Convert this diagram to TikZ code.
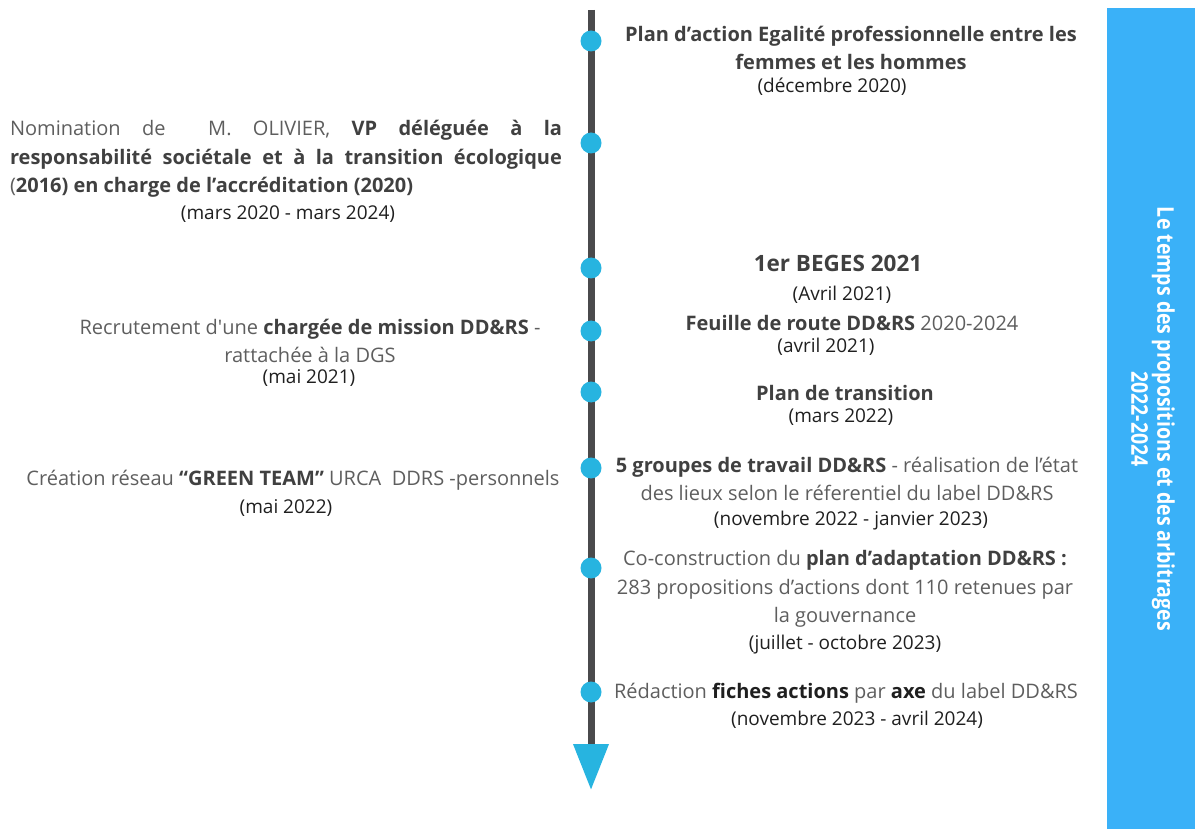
\documentclass[tikz,border=0pt]{standalone}
\usepackage{fontspec}
\setmainfont{Open Sans}
\newfontfamily\barfont{Open Sans}[FakeStretch=0.85]
\usetikzlibrary{arrows.meta, positioning}
\definecolor{ccyan}{HTML}{27B4E0}
\definecolor{cbar}{HTML}{3AB1F8}
\definecolor{cline}{HTML}{4A4A4C}
\definecolor{cgrey}{HTML}{5E5E5E}
\definecolor{cdark}{HTML}{404040}
\definecolor{cdate}{HTML}{1F1F1F}
\tikzset{
  every picture/.style={line width=1pt},
  ev/.style={font=\fontsize{20}{28.5}\selectfont, text=cgrey, align=center, inner sep=0pt},
  date/.style={font=\fontsize{19}{24}\selectfont, text=cdate, inner sep=0pt},
  dot/.style={circle, fill=ccyan, minimum size=21pt, inner sep=0pt},
  axis/.style={draw=cline, line width=7pt, -{Triangle[length=46pt, width=34pt, color=ccyan, fill=ccyan]}},
  bandfill/.style={fill=cbar, draw=none},
  bandtext/.style={font=\barfont\bfseries\fontsize{23}{26}\selectfont, text=white, align=center, rotate=-90},
}
\newcommand{\hl}[1]{\textbf{\textcolor{cdark}{#1}}}

\begin{document}
\begin{tikzpicture}[x=1pt, y=-1pt]
  \useasboundingbox (0,0) rectangle (1195,829);
  % right band
  \fill[bandfill] (1107,8) rectangle (1195,829);
  \node[bandtext] (band) at (1153,419) {Le temps des propositions et des arbitrages\\2022-2024};
  % axis and dots
  \coordinate (start) at (591,10);
  \coordinate (end) at (591,790);
  \draw[axis] (start) -- (end);
  \foreach \y [count=\i] in {41,143,268,331,392,468,568,692}
    \node[dot] (d\i) at (591,\y) {};
  % left side
  \node[ev, text width=552pt, align=justify] (l1) at (286,159)
    {\tolerance=9999 Nomination de \ M. OLIVIER, \hl{VP déléguée à la}\linebreak
     \hl{responsabilité sociétale et à la transition écologique}\linebreak
     (\hl{2016) en charge de l’accréditation (2020)}};
  \node[date] (l1d) at (288,214) {(mars 2020 - mars 2024)};
  \node[ev] (l2) at (310,341) {Recrutement d\textquotesingle une \hl{chargée de mission DD\&RS} -\\rattachée à la DGS};
  \node[date] (l2d) at (309,378) {(mai 2021)};
  \node[ev] (l3) at (293,480) {Création réseau \hl{“GREEN TEAM”} URCA \ DDRS -personnels};
  \node[date] (l3d) at (286,508) {(mai 2022)};
  % right side
  \node[ev] (r1) at (851,48) {\hl{Plan d’action Egalité professionnelle entre les}\\\hl{femmes et les hommes}};
  \node[date] (r1d) at (832,87) {(décembre 2020)};
  \node[ev, font=\fontsize{22.5}{28}\selectfont] (r2) at (838,263) {\hl{1er BEGES 2021}};
  \node[date] (r2d) at (842,295) {(Avril 2021)};
  \node[ev] (r3) at (852,323) {\hl{Feuille de route DD\&RS} 2020-2024};
  \node[date] (r3d) at (826,347) {(avril 2021)};
  \node[ev] (r4) at (845,393) {\hl{Plan de transition}};
  \node[date] (r4d) at (841,417) {(mars 2022)};
  \node[ev] (r5) at (847,479) {\hl{5 groupes de travail DD\&RS} - réalisation de l’état\\des lieux selon le réferentiel du label DD\&RS};
  \node[date] (r5d) at (851,521) {(novembre 2022 - janvier 2023)};
  \node[ev] (r6) at (845,589) {Co-construction du \hl{plan d’adaptation DD\&RS :}\\283 propositions d’actions dont 110 retenues par\\la gouvernance};
  \node[date] (r6d) at (845,645) {(juillet - octobre 2023)};
  \node[ev] (r7) at (846,693) {Rédaction \textbf{\textcolor{cdate}{fiches actions}} par \textbf{\textcolor{cdate}{axe}} du label DD\&RS};
  \node[date] (r7d) at (857,720) {(novembre 2023 - avril 2024)};
\end{tikzpicture}
\end{document}
